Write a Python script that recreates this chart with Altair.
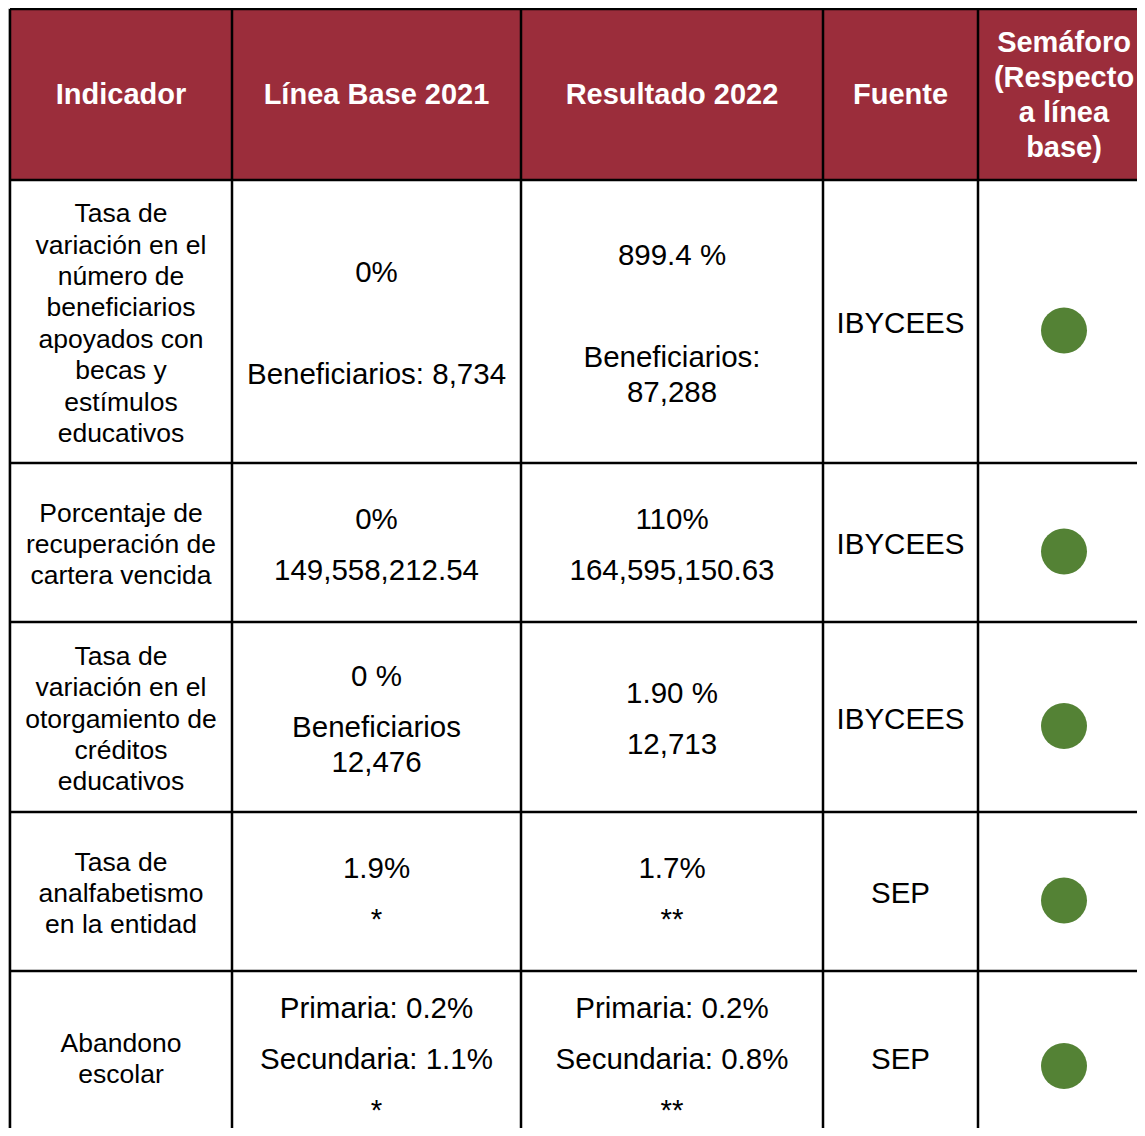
import altair as alt
import pandas as pd

# ---------------- data ----------------
encabezados = ["Indicador", "Línea Base 2021", "Resultado 2022", "Fuente",
               "Semáforo\n(Respecto\na línea\nbase)"]
indicadores = [
    "Tasa de\nvariación en el\nnúmero de\nbeneficiarios\napoyados con\nbecas y\nestímulos\neducativos",
    "Porcentaje de\nrecuperación de\ncartera vencida",
    "Tasa de\nvariación en el\notorgamiento de\ncréditos\neducativos",
    "Tasa de\nanalfabetismo\nen la entidad",
    "Abandono\nescolar",
]
# each cell = list of paragraphs ("\n" = line break inside a paragraph)
linea_base = [
    ["0%", "", "Beneficiarios: 8,734"],
    ["0%", "149,558,212.54"],
    ["0 %", "Beneficiarios\n12,476"],
    ["1.9%", "*"],
    ["Primaria: 0.2%", "Secundaria: 1.1%", "*"],
]
resultado = [
    ["899.4 %", "", "Beneficiarios:\n87,288"],
    ["110%", "164,595,150.63"],
    ["1.90 %", "12,713"],
    ["1.7%", "**"],
    ["Primaria: 0.2%", "Secundaria: 0.8%", "**"],
]
fuente = ["IBYCEES", "IBYCEES", "IBYCEES", "SEP", "SEP"]
semaforo = ["Verde", "Verde", "Verde", "Verde", "Verde"]

# ---------------- layout ----------------
W, H = 1129, 1120
col_edges = [2, 224, 513, 815, 970, 1142]
row_edges = [0, 172, 455, 614, 804, 963, 1135]
HEADER_BG = "#9B2D3B"
GREEN = "#548235"
FONT = "Liberation Sans"


def place(paragraphs, center, lh, ps):
    out = []
    pos = 0.0
    for i, para in enumerate(paragraphs):
        if i > 0:
            pos += lh + ps
        for j, line in enumerate(para.split("\n")):
            if j > 0:
                pos += lh
            out.append((line, pos))
    off = center - pos / 2.0
    return [(t, p + off) for t, p in out if t != ""]


def ccx(c):
    return (col_edges[c] + col_edges[c + 1]) / 2.0


def ccy(r):
    return (row_edges[r] + row_edges[r + 1]) / 2.0


rows = []
# header
for c, h in enumerate(encabezados):
    for t, y in place([h], ccy(0) + 1, 35, 16):
        rows.append(dict(x=ccx(c), y=y, text=t, kind="header"))
# body
for i in range(len(indicadores)):
    r = i + 1
    cy = ccy(r) + 2.5
    for t, y in place([indicadores[i]], cy, 31.4, 16):
        rows.append(dict(x=ccx(0), y=y, text=t, kind="ind"))
    for t, y in place(linea_base[i], cy, 35, 16):
        rows.append(dict(x=ccx(1), y=y, text=t, kind="body"))
    for t, y in place(resultado[i], cy, 35, 16):
        rows.append(dict(x=ccx(2), y=y, text=t, kind="body"))
    for t, y in place([fuente[i]], cy, 35, 16):
        rows.append(dict(x=ccx(3), y=y, text=t, kind="body"))
text_df = pd.DataFrame(rows)

circ_df = pd.DataFrame(dict(
    x=[ccx(4)] * len(semaforo),
    y=[ccy(i + 1) + 9 for i in range(len(semaforo))],
    estado=semaforo,
))

head_df = pd.DataFrame(dict(
    x=[col_edges[0]], x2=[col_edges[-1]], y=[row_edges[0]], y2=[row_edges[1]]
))
vlines = pd.DataFrame(dict(x=col_edges, y=[1] * len(col_edges),
                           y2=[row_edges[-1]] * len(col_edges)))
hlines = pd.DataFrame(dict(y=[1] + row_edges[1:-1], x=[col_edges[0]] * (len(row_edges) - 1),
                           x2=[col_edges[-1]] * (len(row_edges) - 1)))

xs = alt.Scale(domain=[0, W], nice=False, zero=False)
ys = alt.Scale(domain=[0, H], nice=False, zero=False, reverse=True)

X = lambda f: alt.X(f, type="quantitative", scale=xs, axis=None)
Y = lambda f: alt.Y(f, type="quantitative", scale=ys, axis=None)

header = alt.Chart(head_df).mark_rect(color=HEADER_BG, clip=True).encode(
    x=X("x"), x2="x2", y=Y("y"), y2="y2")

vr = alt.Chart(vlines).mark_rule(color="black", strokeWidth=2.5, clip=True).encode(
    x=X("x"), y=Y("y"), y2="y2")
hr = alt.Chart(hlines).mark_rule(color="black", strokeWidth=2.5, clip=True).encode(
    y=Y("y"), x=X("x"), x2="x2")

t_head = alt.Chart(text_df[text_df.kind == "header"]).mark_text(
    font=FONT, fontSize=29, fontWeight="bold", color="white",
    align="center", baseline="middle").encode(x=X("x"), y=Y("y"), text="text:N")
t_ind = alt.Chart(text_df[text_df.kind == "ind"]).mark_text(
    font=FONT, fontSize=26.5, color="black",
    align="center", baseline="middle").encode(x=X("x"), y=Y("y"), text="text:N")
t_body = alt.Chart(text_df[text_df.kind == "body"]).mark_text(
    font=FONT, fontSize=29.5, color="black",
    align="center", baseline="middle").encode(x=X("x"), y=Y("y"), text="text:N")

circles = alt.Chart(circ_df).mark_circle(size=2116, color=GREEN, opacity=1, clip=True).encode(
    x=X("x"), y=Y("y"), tooltip="estado:N")

chart = alt.layer(header, t_head, t_ind, t_body, circles, vr, hr).properties(
    width=W, height=H, padding=0
).configure_view(strokeWidth=0).configure(background="white")

chart.save("out.html", embed_options={"renderer": "svg", "actions": False})
